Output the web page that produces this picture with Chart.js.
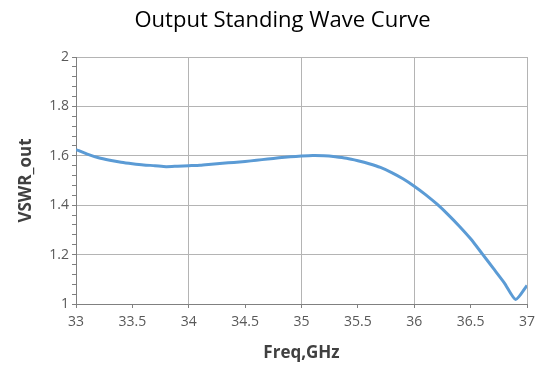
<!DOCTYPE html>
<html lang="en">
<head>
    <meta charset="UTF-8">
    <title>Output Standing Wave Curve</title>
    <script src="https://cdn.jsdelivr.net/npm/chart.js"></script>
    <style>
        html, body { margin: 0; padding: 0; background: #fff; }
        #wrap { width: 543px; height: 369px; }
    </style>
</head>
<body>
    <div id="wrap"><canvas id="vswrChart"></canvas></div>
    <script>
        // frequency (GHz) and VSWR
        const freqs = [33.0, 33.1, 33.2, 33.3, 33.4, 33.5, 33.6, 33.7, 33.8, 33.9,
                       34.0, 34.1, 34.2, 34.3, 34.4, 34.5, 34.6, 34.7, 34.8, 34.9,
                       35.0, 35.1, 35.2, 35.3, 35.4, 35.5, 35.6, 35.7, 35.8, 35.9,
                       36.0, 36.1, 36.2, 36.3, 36.4, 36.5, 36.6, 36.7, 36.8, 36.9, 37.0];
        const vswrOut = [1.625, 1.607, 1.592, 1.582, 1.574, 1.568, 1.563, 1.560, 1.556, 1.558,
                         1.560, 1.562, 1.566, 1.570, 1.573, 1.577, 1.582, 1.587, 1.592, 1.596,
                         1.599, 1.601, 1.600, 1.596, 1.590, 1.580, 1.568, 1.553, 1.532, 1.507,
                         1.477, 1.443, 1.405, 1.362, 1.315, 1.264, 1.205, 1.145, 1.085, 1.018, 1.075];
        const xTicks = [33, 33.5, 34, 34.5, 35, 35.5, 36, 36.5, 37];
        const yMin = 1, yMax = 2, yLabelStep = 0.2, yMinorStep = 0.04;

        const isMult = (v, step) => Math.abs(v / step - Math.round(v / step)) < 1e-6;

        new Chart(document.getElementById('vswrChart'), {
            type: 'line',
            data: {
                datasets: [{
                    label: 'VSWR_out',
                    data: freqs.map((f, i) => ({ x: f, y: vswrOut[i] })),
                    borderColor: '#5b9bd5',
                    borderWidth: 3,
                    pointRadius: 0,
                    tension: 0.2,
                    fill: false
                }]
            },
            options: {
                responsive: true,
                maintainAspectRatio: false,
                animation: false,
                // left padding shifts the title centre to match the original
                layout: { padding: { left: 22, right: 0, top: 0, bottom: 0 } },
                plugins: {
                    legend: { display: false },
                    tooltip: { enabled: false },
                    title: {
                        display: true,
                        text: 'Output Standing Wave Curve',
                        color: '#000',
                        font: { family: 'Open Sans', size: 22, weight: 'normal' },
                        padding: { top: 8, bottom: 22.6 }
                    }
                },
                scales: {
                    x: {
                        type: 'linear',
                        min: 33,
                        max: 37,
                        afterBuildTicks: axis => { axis.ticks = xTicks.map(v => ({ value: v })); },
                        afterFit: axis => { axis.height = 65; axis.paddingRight = 16; },
                        ticks: {
                            color: '#595959',
                            font: { family: 'Open Sans', size: 14 },
                            padding: 6,
                            maxRotation: 0,
                            autoSkip: false,
                            callback: v => String(v)
                        },
                        grid: {
                            color: ctx => (ctx.tick && Number.isInteger(ctx.tick.value)) ? '#b4b4b4' : 'rgba(0,0,0,0)',
                            tickColor: '#808080',
                            tickLength: 4,
                            lineWidth: 1
                        },
                        border: { color: '#808080', width: 1 },
                        title: {
                            display: true,
                            text: 'Freq,GHz',
                            color: '#404040',
                            font: { family: 'Open Sans', size: 17, weight: 'bold' },
                            padding: { top: 4, bottom: 6 }
                        }
                    },
                    y: {
                        min: yMin,
                        max: yMax,
                        afterFit: axis => { axis.width = 54; },
                        ticks: {
                            stepSize: yMinorStep,
                            autoSkip: false,
                            color: '#595959',
                            font: { family: 'Open Sans', size: 14 },
                            padding: 3,
                            callback: v => isMult(v, yLabelStep) ? String(Math.round(v * 10) / 10) : ''
                        },
                        grid: {
                            color: ctx => (ctx.tick && isMult(ctx.tick.value, yLabelStep)) ? '#b4b4b4' : 'rgba(0,0,0,0)',
                            tickColor: '#808080',
                            tickLength: 4,
                            lineWidth: 1
                        },
                        border: { color: '#808080', width: 1 },
                        title: {
                            display: true,
                            text: 'VSWR_out',
                            color: '#404040',
                            font: { family: 'Open Sans', size: 17, weight: 'bold' },
                            padding: { top: -6, bottom: 0 }
                        }
                    }
                }
            }
        });
    </script>
</body>
</html>
